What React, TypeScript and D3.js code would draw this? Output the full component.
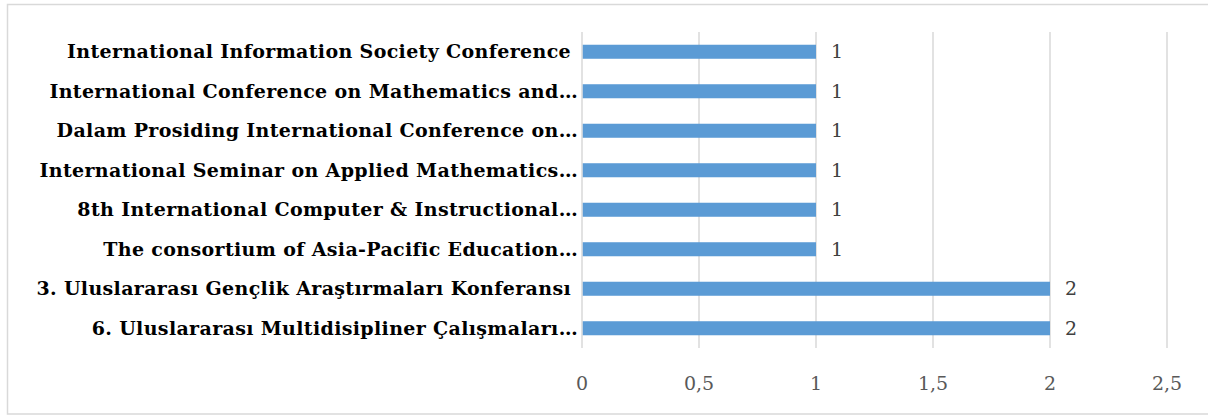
import { useMemo } from 'react';
import * as d3 from 'd3';

const categories = [
	'International Information Society Conference ',
	'International Conference on Mathematics and…',
	'Dalam Prosiding International Conference on…',
	'International Seminar on Applied Mathematics…',
	'8th International Computer & Instructional…',
	'The consortium of Asia-Pacific Education…',
	'3. Uluslararası Gençlik Araştırmaları Konferansı ',
	'6. Uluslararası Multidisipliner Çalışmaları…',
];
const values = [1, 1, 1, 1, 1, 1, 2, 2];
const xTicks = [0, 0.5, 1, 1.5, 2, 2.5];

const fontFamily = '"Palatino Linotype", "Book Antiqua", Palatino, "DejaVu Serif", serif';

export default function App() {
	const width = 1208;
	const height = 416;
	const plot = { left: 582, right: 1167, top: 32, bottom: 348 };
	const barColor = '#5b9bd5';
	const gridColor = '#d9d9d9';

	const xScale = useMemo(
		() => d3.scaleLinear().domain([0, 2.5]).range([plot.left, plot.right]),
		[],
	);
	const yScale = useMemo(
		() =>
			d3
				.scaleBand<string>()
				.domain(categories)
				.range([plot.top, plot.bottom])
				.paddingInner(0.645)
				.paddingOuter(0.3225),
		[],
	);

	const tickFmt = (d: number) => String(d).replace('.', ',');

	return (
		<svg
			width={width}
			height={height}
			style={{ position: 'absolute', left: 0, top: 0, background: '#fff' }}
		>
			<rect
				x={7.5}
				y={4.5}
				width={1205}
				height={409.5}
				fill="#fff"
				stroke={gridColor}
				strokeWidth={1.5}
			/>

			{/* vertical grid */}
			{xTicks.map((t) => (
				<line
					key={'g' + t}
					x1={xScale(t)}
					x2={xScale(t)}
					y1={plot.top}
					y2={plot.bottom}
					stroke={gridColor}
					strokeWidth={1.5}
				/>
			))}

			{/* bars */}
			{categories.map((c, i) => (
				<g key={c}>
					<rect
						x={xScale(0) + 0.75}
						y={yScale(c)!}
						width={xScale(values[i]) - xScale(0) - 0.75}
						height={yScale.bandwidth()}
						fill={barColor}
					/>
					<text
						x={xScale(values[i]) + 15}
						y={yScale(c)! + yScale.bandwidth() / 2}
						dy="0.35em"
						fontFamily={fontFamily}
						fontSize={19}
						fill="#404040"
					>
						{values[i]}
					</text>
					<text
						x={plot.left - 4}
						y={yScale(c)! + yScale.bandwidth() / 2}
						dy="0.35em"
						textAnchor="end"
						fontFamily={fontFamily}
						fontWeight="bold"
						fontSize={19}
						letterSpacing={0.35}
						fill="#000"
						style={{ whiteSpace: 'pre' }}
					>
						{c}
					</text>
				</g>
			))}

			{/* x tick labels */}
			{xTicks.map((t) => (
				<text
					key={'t' + t}
					x={xScale(t)}
					y={383}
					dy="0.35em"
					textAnchor="middle"
					fontFamily={fontFamily}
					fontSize={19}
					fill="#595959"
				>
					{tickFmt(t)}
				</text>
			))}
		</svg>
	);
}
